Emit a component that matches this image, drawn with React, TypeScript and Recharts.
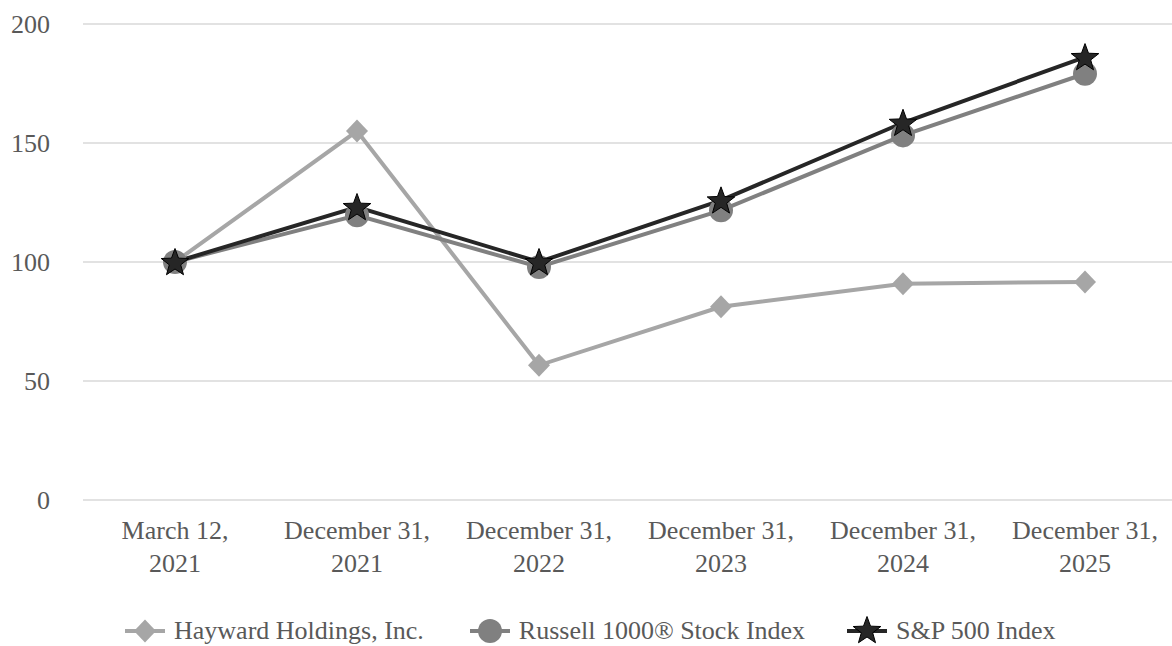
import { LineChart, Line, XAxis, YAxis, CartesianGrid, Legend } from 'recharts'

const dates = ['March 12, 2021', 'December 31, 2021', 'December 31, 2022', 'December 31, 2023', 'December 31, 2024', 'December 31, 2025']
const hayward = [100, 155, 56.6, 81.2, 90.9, 91.6]
const russell = [100, 119.6, 97.9, 121.7, 153.2, 179.1]
const sp500 = [100, 123.1, 100, 125.9, 158.5, 186.1]
const yTicks = [0, 50, 100, 150, 200]

const FONT = '"Liberation Serif", "Times New Roman", serif'
const TEXT = '#595959'

const chartData = dates.map((date, i) => ({
  date,
  hayward: hayward[i],
  russell: russell[i],
  sp500: sp500[i],
}))

function starPoints(cx: number, cy: number, outer: number, inner: number) {
  const pts: string[] = []
  for (let i = 0; i < 10; i++) {
    const r = i % 2 === 0 ? outer : inner
    const a = -Math.PI / 2 + (i * Math.PI) / 5
    pts.push(`${cx + r * Math.cos(a)},${cy + r * Math.sin(a)}`)
  }
  return pts.join(' ')
}

const Diamond = ({ cx, cy }: any) => (
  <polygon points={`${cx},${cy - 11.5} ${cx + 11},${cy} ${cx},${cy + 11.5} ${cx - 11},${cy}`} fill="#a6a6a6" />
)
const Dot = ({ cx, cy }: any) => <circle cx={cx} cy={cy} r={12} fill="#808080" />
const Star = ({ cx, cy }: any) => (
  <polygon points={starPoints(cx, cy + 1, 14.5, 6)} fill="#262626" stroke="#000" strokeWidth={1} />
)

function DateTick({ x, y, payload }: any) {
  const [first, second] = payload.value.split(', ')
  return (
    <text x={x} textAnchor="middle" fill={TEXT} fontSize={26} fontFamily={FONT}>
      <tspan x={x} y={y + 39}>{first},</tspan>
      <tspan x={x} y={y + 72}>{second}</tspan>
    </text>
  )
}

// spacing before each legend entry, as in the source
const legendItems = [
  { name: 'Hayward Holdings, Inc.', color: '#a6a6a6', mark: 'diamond', gap: 0 },
  { name: 'Russell 1000® Stock Index', color: '#808080', mark: 'circle', gap: 46 },
  { name: 'S&P 500 Index', color: '#262626', mark: 'star', gap: 42 },
]

function LegendContent() {
  return (
    <div style={{ display: 'flex', alignItems: 'center', paddingTop: 16, paddingLeft: 125, fontFamily: FONT, fontSize: 26, color: TEXT }}>
      {legendItems.map(item => (
        <div key={item.name} style={{ display: 'flex', alignItems: 'center', marginLeft: item.gap }}>
          <svg width={40} height={30} style={{ marginRight: 9 }}>
            <line x1={0} y1={15} x2={40} y2={15} stroke={item.color} strokeWidth={4} />
            {item.mark === 'diamond' && <Diamond cx={20} cy={15} />}
            {item.mark === 'circle' && <Dot cx={20} cy={15} />}
            {item.mark === 'star' && <Star cx={20} cy={14} />}
          </svg>
          <span style={{ lineHeight: '30px', whiteSpace: 'nowrap' }}>{item.name}</span>
        </div>
      ))}
    </div>
  )
}

export default function App() {
  return (
    <div style={{ width: 1172, height: 646, background: '#fff' }}>
      <style>{'body{margin:0}'}</style>
      <LineChart width={1172} height={646} data={chartData} margin={{ top: 24, right: 0, bottom: 0, left: 0 }}>
        <CartesianGrid vertical={false} stroke="#d9d9d9" strokeWidth={1.5} />
        <XAxis
          dataKey="date"
          axisLine={false}
          tickLine={false}
          tickSize={0}
          tickMargin={0}
          height={100}
          padding={{ left: 92, right: 87 }}
          interval={0}
          tick={<DateTick />}
        />
        <YAxis
          domain={[0, 200]}
          ticks={yTicks}
          width={83}
          axisLine={false}
          tickLine={false}
          tickSize={0}
          tickMargin={33}
          tick={{ fill: TEXT, fontSize: 26, fontFamily: FONT }}
        />
        <Legend verticalAlign="bottom" height={46} content={<LegendContent />} />
        <Line dataKey="hayward" stroke="#a6a6a6" strokeWidth={4} dot={<Diamond />} activeDot={false} isAnimationActive={false} />
        <Line dataKey="russell" stroke="#808080" strokeWidth={4} dot={<Dot />} activeDot={false} isAnimationActive={false} />
        <Line dataKey="sp500" stroke="#262626" strokeWidth={4} dot={<Star />} activeDot={false} isAnimationActive={false} />
      </LineChart>
    </div>
  )
}
